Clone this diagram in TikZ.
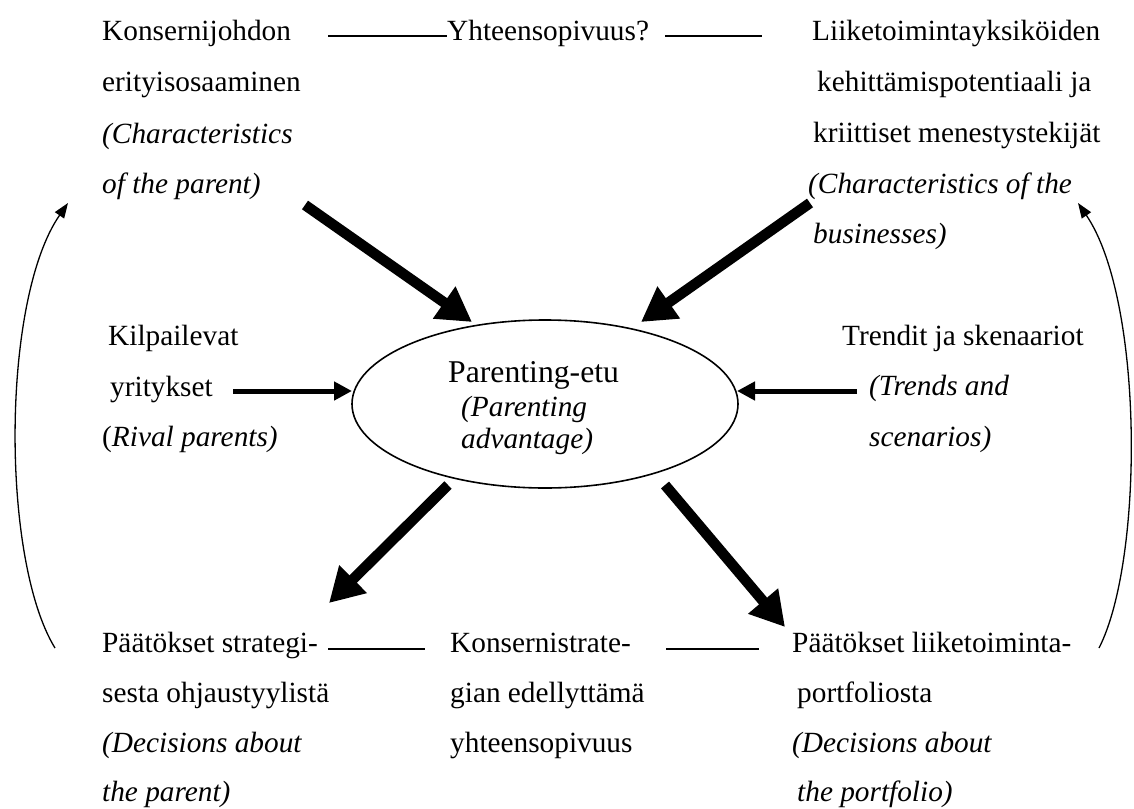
\documentclass[tikz,border=0pt]{standalone}
\usepackage{fontspec}
\setmainfont{Liberation Serif}
\usetikzlibrary{arrows.meta,shapes.geometric}
\newcommand{\fsn}{\fontsize{29.3}{35}\selectfont}
\newcommand{\fsb}{\fontsize{31.7}{38}\selectfont}
\begin{document}
\begin{tikzpicture}[x=1pt,y=-1pt,
  txt/.style={anchor=base west, inner sep=0pt, font=\fsn},
  itx/.style={txt, font=\fsn\itshape},
  conn/.style={line width=1.6pt},
  thinarr/.style={line width=1.3pt, -{Triangle[length=15pt,width=11pt]}},
  midarr/.style={line width=5pt, -{Triangle[length=18pt,width=18pt]}},
  bigarr/.style={line width=10.5pt, -{Triangle[length=34pt,width=37pt]}}]
\useasboundingbox (0,0) rectangle (1134,808);

% top left
\node[txt] (tl1) at (102,41) {Konsernijohdon};
\node[txt] (tl2) at (102,92) {erityisosaaminen};
\node[itx] (tl3) at (102,143) {(Characteristics};
\node[itx] (tl4) at (102,193) {of the parent)};
% top centre
\node[txt] (tc) at (447,41) {Yhteensopivuus?};
% top right
\node[txt] (tr1) at (812,41) {Liiketoimintayksiköiden};
\node[txt] (tr2) at (817,92) {kehittämispotentiaali ja};
\node[txt] (tr3) at (813,142) {kriittiset menestystekijät};
\node[itx] (tr4) at (808,193) {(Characteristics of the};
\node[itx] (tr5) at (813,243) {businesses)};
% middle left
\node[txt] (ml1) at (108,345) {Kilpailevat};
\node[txt] (ml2) at (110,396) {yritykset};
\node[txt] (ml3) at (102,446) {(\textit{Rival parents)}};
% middle right
\node[txt] (mr1) at (842,345) {Trendit ja skenaariot};
\node[itx] (mr2) at (869,395) {(Trends and};
\node[itx] (mr3) at (869,446) {scenarios)};
% ellipse
\node[ellipse, draw, line width=1.6pt, minimum width=386pt, minimum height=168pt, inner sep=0pt] (pe) at (545,404) {};
\node[anchor=base west, inner sep=0pt, font=\fsb] (pe1) at (448,382) {Parenting-etu};
\node[itx] (pe2) at (461,416) {(Parenting};
\node[itx] (pe3) at (461,448) {advantage)};
% bottom left
\node[txt] (bl1) at (102,652) {Päätökset strategi-};
\node[txt] (bl2) at (102,702) {sesta ohjaustyylistä};
\node[itx] (bl3) at (102,752) {(Decisions about};
\node[itx] (bl4) at (102,801) {the parent)};
% bottom centre
\node[txt] (bc1) at (450,652) {Konsernistrate-};
\node[txt] (bc2) at (450,702) {gian edellyttämä};
\node[txt] (bc3) at (450,752) {yhteensopivuus};
% bottom right
\node[txt] (br1) at (792,652) {Päätökset liiketoiminta-};
\node[txt] (br2) at (797,702) {portfoliosta};
\node[itx] (br3) at (792,752) {(Decisions about};
\node[itx] (br4) at (797,801) {the portfolio)};

% coordinates
\coordinate (t1a) at (328,36); \coordinate (t1b) at (447,36);
\coordinate (t2a) at (665,36); \coordinate (t2b) at (762,36);
\coordinate (b1a) at (328,649); \coordinate (b1b) at (425,649);
\coordinate (b2a) at (666,649); \coordinate (b2b) at (759,649);
\coordinate (a1s) at (305,205); \coordinate (a1e) at (472,322);
\coordinate (a2s) at (810,203); \coordinate (a2e) at (641,322);
\coordinate (a3s) at (448,485); \coordinate (a3e) at (329,603);
\coordinate (a4s) at (665,485); \coordinate (a4e) at (785,627);
\coordinate (h1s) at (233,391); \coordinate (h1e) at (352,391);
\coordinate (h2s) at (857,391); \coordinate (h2e) at (737,391);
\coordinate (l0) at (55,648); \coordinate (l1) at (68,203);
\coordinate (r0) at (1099,648); \coordinate (r1) at (1078,203);

% lines
\draw[conn] (t1a) -- (t1b);
\draw[conn] (t2a) -- (t2b);
\draw[conn] (b1a) -- (b1b);
\draw[conn] (b2a) -- (b2b);
% arrows
\draw[bigarr] (a1s) -- (a1e);
\draw[bigarr] (a2s) -- (a2e);
\draw[bigarr] (a3s) -- (a3e);
\draw[bigarr] (a4s) -- (a4e);
\draw[midarr] (h1s) -- (h1e);
\draw[midarr] (h2s) -- (h2e);
\draw[thinarr] (l0) .. controls (1,560) and (1,300) .. (l1);
\draw[thinarr] (r0) .. controls (1144,560) and (1144,300) .. (r1);
\end{tikzpicture}
\end{document}
